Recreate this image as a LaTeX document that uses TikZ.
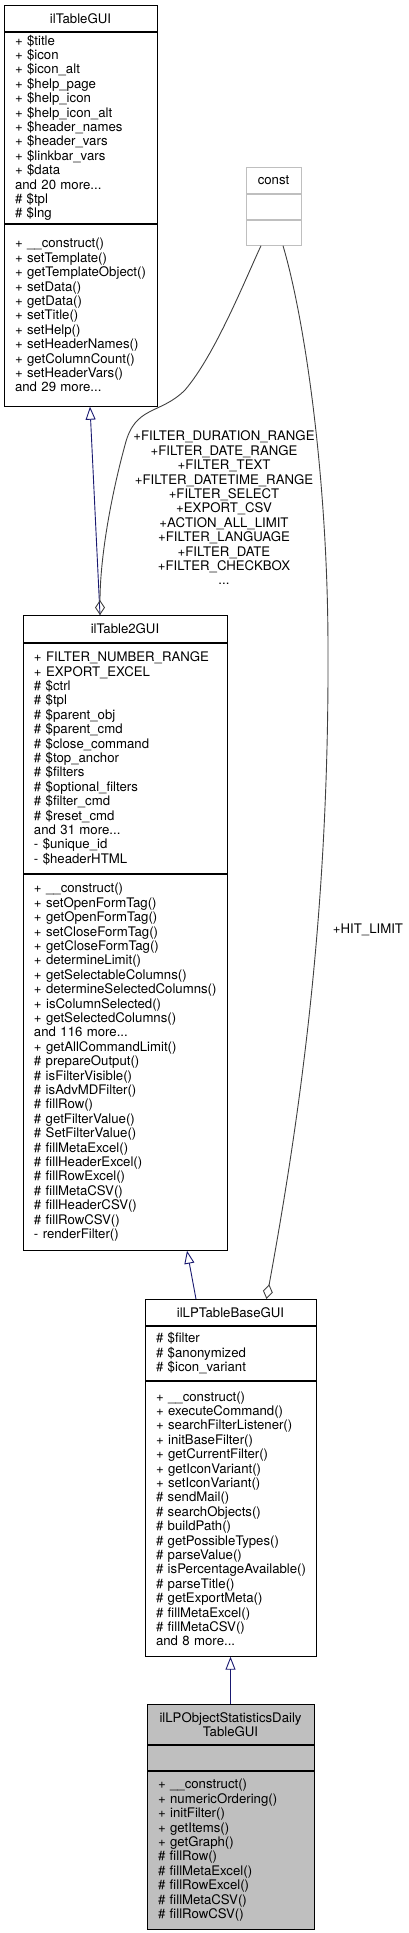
\documentclass[tikz,border=0pt]{standalone}
\usepackage{fontspec}
\setmainfont{TeX Gyre Heros}
\usepackage{tikz}
\usetikzlibrary{arrows.meta,positioning}
\definecolor{inhblue}{RGB}{25,25,112}
\definecolor{usegray}{RGB}{64,64,64}
\definecolor{gray75}{RGB}{191,191,191}
\newcommand{\dxfont}{\fontsize{13.2}{14.4}\selectfont\hyphenpenalty=10000\exhyphenpenalty=10000\relax}

\begin{document}
\begin{tikzpicture}[x=1pt, y=-1pt, node distance=0pt,
  cls/.style={draw=black, line width=0.9pt, fill=white, inner xsep=11pt, inner ysep=0pt,
              font=\dxfont, align=left},
  head/.style={cls, align=center},
  inh/.style={draw=inhblue, line width=0.9pt, -{Triangle[open, length=13pt, width=10pt]}},
  use/.style={draw=usegray, line width=0.9pt, -{Diamond[open, length=15pt, width=10pt]}},
  lbl/.style={font=\dxfont, align=center, inner sep=0pt}]
\useasboundingbox (0,0) rectangle (409,1933);
% classes
\node[head, text width=131pt, minimum height=26pt, anchor=north] (tablegui) at (80.5,5) {ilTableGUI};
\node[cls, text width=131pt, minimum height=191pt, below=of tablegui] (tablegui-a) {+ \$title\\+ \$icon\\+ \$icon\_alt\\
  + \$help\_page\\+ \$help\_icon\\+ \$help\_icon\_alt\\+ \$header\_names\\+ \$header\_vars\\+ \$linkbar\_vars\\
  + \$data\\and 20 more...\\\# \$tpl\\\# \$lng};
\node[cls, text width=131pt, minimum height=182pt, below=of tablegui-a] (tablegui-m) {+ \_\_construct()\\
  + setTemplate()\\+~getTemplateObject()\\+ setData()\\+ getData()\\+ setTitle()\\+ setHelp()\\
  + setHeaderNames()\\+ getColumnCount()\\+ setHeaderVars()\\and 29 more...};
\node[head, draw=gray75, text width=33pt, minimum height=26pt, anchor=north] (const) at (273.5,167) {const};
\node[cls, draw=gray75, text width=33pt, minimum height=25pt, below=of const] (const-a) {};
\node[cls, draw=gray75, text width=33pt, minimum height=25pt, below=of const-a] (const-m) {};
\node[head, text width=182pt, minimum height=27pt, anchor=north] (table2gui) at (125,615) {ilTable2GUI};
\node[cls, text width=182pt, minimum height=230pt, below=of table2gui] (table2gui-a) {+~FILTER\_NUMBER\_RANGE\\
  + EXPORT\_EXCEL\\\# \$ctrl\\\# \$tpl\\\# \$parent\_obj\\\# \$parent\_cmd\\\# \$close\_command\\
  \# \$top\_anchor\\\# \$filters\\\# \$optional\_filters\\\# \$filter\_cmd\\\# \$reset\_cmd\\
  and 31 more...\\- \$unique\_id\\- \$headerHTML};
\node[cls, text width=182pt, minimum height=376pt, below=of table2gui-a] (table2gui-m) {+ \_\_construct()\\
  + setOpenFormTag()\\+ getOpenFormTag()\\+ setCloseFormTag()\\+ getCloseFormTag()\\+ determineLimit()\\
  + getSelectableColumns()\\+~determineSelectedColumns()\\+ isColumnSelected()\\+ getSelectedColumns()\\
  and 116 more...\\+ getAllCommandLimit()\\\# prepareOutput()\\\# isFilterVisible()\\\# isAdvMDFilter()\\
  \# fillRow()\\\# getFilterValue()\\\# SetFilterValue()\\\# fillMetaExcel()\\\# fillHeaderExcel()\\
  \# fillRowExcel()\\\# fillMetaCSV()\\\# fillHeaderCSV()\\\# fillRowCSV()\\- renderFilter()};
\node[head, text width=149pt, minimum height=26pt, anchor=north] (basegui) at (230.5,1299) {ilLPTableBaseGUI};
\node[cls, text width=149pt, minimum height=54pt, below=of basegui] (basegui-a) {\# \$filter\\\# \$anonymized\\\# \$icon\_variant};
\node[cls, text width=149pt, minimum height=275pt, below=of basegui-a] (basegui-m) {+ \_\_construct()\\
  + executeCommand()\\+ searchFilterListener()\\+ initBaseFilter()\\+ getCurrentFilter()\\+ getIconVariant()\\
  + setIconVariant()\\\# sendMail()\\\# searchObjects()\\\# buildPath()\\\# getPossibleTypes()\\\# parseValue()\\
  \#~isPercentageAvailable()\\\# parseTitle()\\\# getExportMeta()\\\# fillMetaExcel()\\\# fillMetaCSV()\\
  and 8 more...};
\node[head, fill=gray75, text width=145pt, minimum height=40pt, anchor=north] (daily) at (230.5,1704) {ilLPObjectStatisticsDaily\\TableGUI};
\node[cls, fill=gray75, text width=145pt, minimum height=25pt, below=of daily] (daily-a) {};
\node[cls, fill=gray75, text width=145pt, minimum height=158pt, below=of daily-a] (daily-m) {+ \_\_construct()\\
  + numericOrdering()\\+ initFilter()\\+ getItems()\\+ getGraph()\\\# fillRow()\\\# fillMetaExcel()\\
  \# fillRowExcel()\\\# fillMetaCSV()\\\# fillRowCSV()};
% labels
\node[lbl] (filter-lbl) at (224,508) {+FILTER\_DURATION\_RANGE\\+FILTER\_DATE\_RANGE\\+FILTER\_TEXT\\
  +FILTER\_DATETIME\_RANGE\\+FILTER\_SELECT\\+EXPORT\_CSV\\+ACTION\_ALL\_LIMIT\\+FILTER\_LANGUAGE\\
  +FILTER\_DATE\\+FILTER\_CHECKBOX\\...};
\node[lbl] (hit-lbl) at (368,930) {+HIT\_LIMIT};
% edges
\draw[inh] ([xshift=-25pt]table2gui.north) -- ([xshift=9.5pt]tablegui-m.south);
\draw[use] ([xshift=-12.5pt]const-m.south) .. controls (245,280) and (215,355) .. (185,390)
  .. controls (160,415) and (135,405) .. (125,445)
  .. controls (110,500) and (100,560) .. ([xshift=-25pt]table2gui.north);
\draw[use] ([xshift=9.5pt]const-m.south) .. controls (305,320) and (328,480) .. (328,650)
  .. controls (329,900) and (303,1100) .. ([xshift=36pt]basegui.north);
\draw[inh] ([xshift=-34.5pt]basegui.north) -- ([xshift=62pt]table2gui-m.south);
\draw[inh] (daily.north) -- (basegui-m.south);
\end{tikzpicture}
\end{document}
